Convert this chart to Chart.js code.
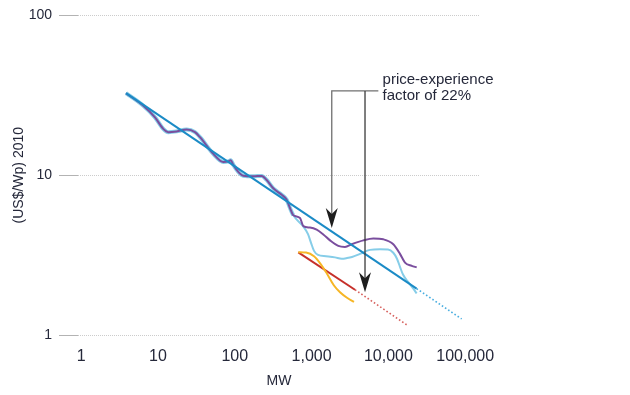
<!DOCTYPE html>
<html><head><meta charset="utf-8">
<script src="https://cdn.jsdelivr.net/npm/chart.js@4"></script>
<style>html,body{margin:0;padding:0;background:#fff}</style>
</head><body>
<canvas id="c" width="630" height="395"></canvas>
<script>
// ---- tick labels ----
const xTicks = [1, 10, 100, 1000, 10000, 100000];
const xTickLabels = ["1", "10", "100", "1,000", "10,000", "100,000"];
const yTicks = [1, 10, 100];
const yTickLabels = ["1", "10", "100"];

// ---- series: historical system price (purple) ----
const historicX = [3.83,6.44,9.14,11.7,13.6,17.5,23.6,30.3,35.2,52.5,70.8,82.3,88.4,95.6,111,129,174,224,260,317,408,474,523,578,706,780,953,1165,1420,1737,2227,2722,3327,4712,6360,8585,11580,14160,16450,20110,23360];
const historicY = [32.6,27.2,23.0,19.5,18.6,18.8,19.3,18.6,17.3,13.6,12.1,12.2,12.4,11.6,10.5,9.93,9.85,9.9,9.34,8.28,7.54,7.02,6.23,5.61,5.40,4.80,4.70,4.56,4.26,3.91,3.61,3.56,3.70,3.91,4.02,3.97,3.70,3.22,2.84,2.71,2.65];

// ---- series: module price (light blue) ----
const moduleX = [3.83,6.44,9.14,11.7,13.6,17.5,23.6,30.3,35.2,52.5,70.8,82.3,88.4,95.6,111,129,174,224,260,317,408,474,523,578,773,898,983,1075,1211,1540,2017,2466,2890,3358,4268,5758,7774,9885,11580,12940,14160,15490,18160,21090,23360];
const moduleY = [32.6,27.2,23.0,19.5,18.6,18.8,19.3,18.6,17.3,13.6,12.1,12.2,12.4,11.6,10.5,9.93,9.85,9.9,9.34,8.28,7.54,7.02,6.23,5.61,4.80,4.28,3.77,3.36,3.17,3.11,3.06,3.00,3.03,3.08,3.22,3.41,3.44,3.43,3.27,3.00,2.67,2.39,2.14,1.95,1.82];
const moduleSharedCount = 24;

// ---- series: experience curve fit (blue) ----
const fitX = [3.83, 23300];
const fitY = [32.6, 1.95];
const fitExtX = [23300, 90000];
const fitExtY = [1.95, 1.26];

// ---- series: yellow ----
const yellowX = [671,846,1075,1306,1587,1957,2344,2890,3565];
const yellowY = [3.30,3.28,3.11,2.79,2.42,2.04,1.85,1.71,1.61];

// ---- series: red ----
const redX = [671, 3673];
const redY = [3.29, 1.92];
const redExtX = [3673, 18160];
const redExtY = [1.92, 1.14];

// ---- annotation ----
const arrowX = [1830, 4960];
const arrowTipY = [4.68, 1.85];
const arrowTopY = 33.7;
const bracketEndX = 7400;
const labelX = 8400;
const labelLines = ["price-experience", "factor of 22%"];
const labelY = [39.4, 31.4];

const FONT = "'Liberation Sans', Arial, Helvetica, sans-serif";
const TEXT = '#25283a';

const pts = (xs, ys) => xs.map((v, i) => ({x: v, y: ys[i]}));

const annotationPlugin = {
  id: 'annotation',
  afterDatasetsDraw(chart) {
    const {ctx, scales: {x, y}} = chart;
    const xa = x.getPixelForValue(arrowX[0]);
    const xb = x.getPixelForValue(arrowX[1]);
    const yt = y.getPixelForValue(arrowTopY);
    const xe = x.getPixelForValue(bracketEndX);
    const ta = y.getPixelForValue(arrowTipY[0]);
    const tb = y.getPixelForValue(arrowTipY[1]);
    ctx.save();
    ctx.lineWidth = 1.3;
    ctx.strokeStyle = '#707070';
    ctx.beginPath();
    ctx.moveTo(xa, ta - 12); ctx.lineTo(xa, yt); ctx.lineTo(xe, yt);
    ctx.stroke();
    ctx.strokeStyle = '#3a3a3a';
    ctx.beginPath();
    ctx.moveTo(xb, yt); ctx.lineTo(xb, tb - 12);
    ctx.stroke();
    ctx.fillStyle = '#1e1e1e';
    [[xa, ta], [xb, tb]].forEach(([px, py]) => {
      ctx.beginPath();
      ctx.moveTo(px, py);
      ctx.lineTo(px - 6, py - 20);
      ctx.lineTo(px, py - 14);
      ctx.lineTo(px + 6, py - 20);
      ctx.closePath();
      ctx.fill();
    });
    ctx.fillStyle = TEXT;
    ctx.font = '15px ' + FONT;
    ctx.textAlign = 'left';
    ctx.textBaseline = 'middle';
    const lx = x.getPixelForValue(labelX);
    labelLines.forEach((t, i) => ctx.fillText(t, lx, y.getPixelForValue(labelY[i])));
    ctx.restore();
  }
};

new Chart(document.getElementById('c'), {
  type: 'line',
  data: {
    datasets: [
      {data: pts(fitX, fitY), borderColor: '#1b8bc6', borderWidth: 2},
      {data: pts(fitExtX, fitExtY), borderColor: '#4aaee0', borderWidth: 1.6, borderDash: [1.6, 2.2]},
      {data: pts(historicX, historicY), borderColor: '#7a4e9e', borderWidth: 2, cubicInterpolationMode: 'monotone'},
      {data: pts(moduleX, moduleY), borderColor: '#86cde8', borderWidth: 2, cubicInterpolationMode: 'monotone',
        segment: {borderWidth: c => c.p1DataIndex < moduleSharedCount ? 4 : 2}},
      {data: pts(yellowX, yellowY), borderColor: '#f6b626', borderWidth: 2, cubicInterpolationMode: 'monotone'},
      {data: pts(redX, redY), borderColor: '#c62f2a', borderWidth: 2},
      {data: pts(redExtX, redExtY), borderColor: '#d7625f', borderWidth: 1.6, borderDash: [1.6, 2.2]}
    ]
  },
  options: {
    responsive: false,
    animation: false,
    layout: {padding: {top: 12, right: 150, bottom: 0, left: 0}},
    plugins: {legend: {display: false}, tooltip: {enabled: false}},
    elements: {point: {radius: 0}, line: {borderCapStyle: 'butt'}},
    scales: {
      x: {
        type: 'logarithmic', min: 0.908, max: 155900,
        afterBuildTicks: s => { s.ticks = xTicks.map(v => ({value: v})); },
        afterFit: s => { s.height = 60; },
        grid: {display: false, drawTicks: false},
        border: {display: false},
        ticks: {padding: 12, autoSkip: false, maxRotation: 0, color: TEXT,
          font: {family: FONT, size: 16}, callback: (v, i) => xTickLabels[i]},
        title: {display: true, text: 'MW', color: TEXT, font: {family: FONT, size: 14},
          padding: {top: 0, bottom: 5}}
      },
      y: {
        type: 'logarithmic', min: 1, max: 100,
        afterBuildTicks: s => { s.ticks = yTicks.map(v => ({value: v})); },
        afterFit: s => { s.width = 78; },
        grid: {color: '#cccccc', lineWidth: 1, tickLength: 19, tickColor: '#b3b3b3',
          tickBorderDash: [], drawTicks: true},
        border: {display: false, dash: [1, 1]},
        ticks: {padding: 7, color: TEXT, font: {family: FONT, size: 14},
          callback: (v, i) => yTickLabels[i]},
        title: {display: true, text: '(US$/Wp) 2010', color: TEXT,
          font: {family: FONT, size: 14}, padding: {top: 11, bottom: 0}}
      }
    }
  },
  plugins: [annotationPlugin]
});
</script>
</body></html>
